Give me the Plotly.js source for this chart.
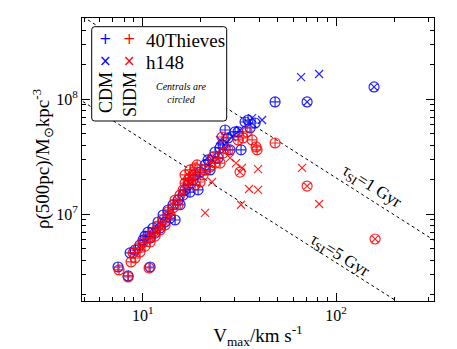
<!DOCTYPE html>
<html><head><meta charset="utf-8">
<script src="https://cdn.plot.ly/plotly-3.0.1.min.js"></script>
<style>html,body{margin:0;padding:0;background:#fff}#chart{width:457px;height:349px}</style>
</head><body><div id="chart"></div>
<script>
// CDM 40Thieves (all centrals, circled +)
const cdmThievesV = [7.45,8.40,10.91,8.60,9.13,9.68,10.04,10.28,10.65,10.91,11.31,11.58,12.00,12.29,12.74,13.05,13.52,13.85,14.35,14.70,15.23,15.60,16.17,16.55,17.16,17.57,18.21,18.65,19.33,19.80,21.01,21.77,22.30,23.66,24.52,25.11,26.03,27.63,28.29,30.02,31.12,32.25,33.82,35.05,35.90,38.11,48.36,26.66];
const cdmThievesRho = [3.48e6,2.91e6,3.48e6,4.61e6,4.89e6,5.41e6,5.98e6,6.47e6,7.01e6,6.22e6,7.60e6,6.87e6,8.57e6,7.60e6,9.86e6,8.57e6,1.09e7,9.28e6,1.21e7,8.92e6,1.33e7,1.21e7,1.47e7,1.63e7,1.80e7,1.56e7,1.99e7,2.20e7,1.63e7,2.33e7,2.69e7,2.97e7,2.43e7,3.48e7,3.09e7,3.78e7,4.01e7,4.61e7,3.63e7,5.20e7,5.20e7,3.63e7,6.35e7,6.61e7,5.63e7,6.22e7,9.48e7,5.41e7];
// CDM h148 satellites (x) and centrals (circled x)
const cdmH148SatV = [65.9,81.7,41.42,25.11,21.51,26.98,28.97,31.87,36.76,22.83];
const cdmH148SatRho = [1.56e8,1.66e8,6.61e7,4.43e7,3.09e7,4.17e7,4.70e7,5.41e7,6.87e7,2.97e7];
const cdmH148CenV = [70.8,157.2];
const cdmH148CenRho = [9.48e7,1.28e8];
// SIDM 40Thieves
const sidmThievesV = [7.54,8.40,10.78,8.70,8.91,9.13,9.46,9.68,10.04,10.28,10.65,10.91,11.31,11.58,12.00,12.29,12.74,13.05,13.52,13.85,14.35,14.70,15.23,15.60,16.17,16.55,17.16,17.57,18.21,18.65,19.10,19.80,20.51,21.01,22.30,23.11,23.66,25.11,25.72,26.03,27.63,31.12,33.03,34.63,36.76,38.57,39.02,48.36,17.57,16.55,18.65];
const sidmThievesRho = [3.28e6,2.85e6,3.41e6,3.85e6,4.61e6,4.17e6,5.09e6,4.70e6,5.74e6,5.29e6,6.22e6,5.74e6,7.01e6,6.47e6,7.91e6,7.30e6,8.92e6,8.07e6,1.05e7,9.86e6,1.14e7,1.33e7,1.21e7,1.47e7,1.63e7,1.87e7,1.99e7,2.07e7,2.20e7,1.80e7,2.69e7,1.91e7,2.20e7,2.43e7,2.58e7,3.15e7,2.79e7,2.79e7,4.70e7,3.41e7,3.63e7,4.43e7,4.61e7,5.20e7,4.43e7,3.85e7,3.63e7,4.17e7,2.43e7,2.20e7,2.53e7];
// SIDM h148
const sidmH148SatV = [21.01,32.25,35.47,39.49,39.49,66.7,81.7,30.38,28.29,22.83,32.6];
const sidmH148SatRho = [1.03e7,1.21e7,1.66e7,1.63e7,2.47e7,2.53e7,1.23e7,2.79e7,3.09e7,1.91e7,2.53e7];
const sidmH148CenV = [70.8,159.1,31.87];
const sidmH148CenRho = [1.76e7,6.10e6,2.33e7];
// Constant-timescale reference lines
const lineV = [4.9, 330];
const tau1Rho = [5.23e8, 5.78e6];
const tau5Rho = [9.57e7, 1.06e6];
// Ticks
const xTickVals = [10, 100];
const xTickText = ['10<sup>1</sup>', '10<sup>2</sup>'];
const yTickVals = [1e7, 1e8];
const yTickText = ['10<sup>7</sup>', '10<sup>8</sup>'];
const xMinor = [5,6,7,8,9,20,30,40,50,60,70,80,90,200,300];
const yMinor = [2e6,3e6,4e6,5e6,6e6,7e6,8e6,9e6,2e7,3e7,4e7,5e7,6e7,7e7,8e7,9e7,2e8,3e8,4e8,5e8];

const BLUE = '#0000ff', RED = '#ff0000';
const F = 'Liberation Serif, Times New Roman, serif';
function mk(x, y, sym, col, size) {
  return {x: x, y: y, type: 'scatter', mode: 'markers', showlegend: false, hoverinfo: 'skip',
    marker: {symbol: sym, size: size, color: col, opacity: 0.85, line: {color: col, width: 1.2}}};
}
const data = [
  {x: lineV, y: tau1Rho, type: 'scatter', mode: 'lines', showlegend: false, line: {color: '#000', width: 1, dash: 'dot'}},
  {x: lineV, y: tau5Rho, type: 'scatter', mode: 'lines', showlegend: false, line: {color: '#000', width: 1, dash: 'dot'}},
  mk(cdmThievesV, cdmThievesRho, 'circle-cross-open', BLUE, 10),
  mk(cdmH148SatV, cdmH148SatRho, 'x-thin-open', BLUE, 8),
  mk(cdmH148CenV, cdmH148CenRho, 'circle-x-open', BLUE, 10),
  mk(sidmThievesV, sidmThievesRho, 'circle-cross-open', RED, 10),
  mk(sidmH148SatV, sidmH148SatRho, 'x-thin-open', RED, 8),
  mk(sidmH148CenV, sidmH148CenRho, 'circle-x-open', RED, 10)
];
const axBase = {type: 'log', showgrid: false, zeroline: false, showline: true, linecolor: '#000', linewidth: 1,
  mirror: 'allticks', ticks: 'inside', ticklen: 8, tickwidth: 1, tickcolor: '#000',
  tickfont: {family: F, size: 16, color: '#000'}};
const layout = {
  width: 457, height: 349, margin: {l: 82, r: 23, t: 18, b: 48},
  paper_bgcolor: '#fff', plot_bgcolor: '#fff', font: {family: F, color: '#000'},
  xaxis: Object.assign({}, axBase, {range: [Math.log10(4.85), Math.log10(321)], tickmode: 'array', tickvals: xTickVals, ticktext: xTickText,
    minor: {tickmode: 'array', tickvals: xMinor, ticks: 'inside', ticklen: 4, tickcolor: '#000', showgrid: false},
    title: {text: 'V<sub>max</sub>/km s<sup>-1</sup>', font: {family: F, size: 19}, standoff: 6}}),
  yaxis: Object.assign({}, axBase, {range: [6.246, 8.707], tickmode: 'array', tickvals: yTickVals, ticktext: yTickText,
    minor: {tickmode: 'array', tickvals: yMinor, ticks: 'inside', ticklen: 4, tickcolor: '#000', showgrid: false}}),
  shapes: [
    {type: 'path', xref: 'paper', yref: 'paper', layer: 'above',
     path: (function(){
       const L=(91.7-82)/352, R=(226.7-82)/352, T=1-(26.7-18)/283, B=1-(121-18)/283, rx=3/352, ry=3/283;
       return `M ${L+rx},${B} L ${R-rx},${B} Q ${R},${B} ${R},${B+ry} L ${R},${T-ry} Q ${R},${T} ${R-rx},${T} L ${L+rx},${T} Q ${L},${T} ${L},${T-ry} L ${L},${B+ry} Q ${L},${B} ${L+rx},${B} Z`;
     })(),
     fillcolor: '#fff', line: {color: '#000', width: 1}}
  ],
  annotations: []
};
function px2x(p){return (p-82)/352;}
function py2y(p){return 1-(p-18)/283;}
function ann(text, px, py, opts){
  return Object.assign({text: text, x: px2x(px), y: py2y(py), xref: 'paper', yref: 'paper', showarrow: false,
    xanchor: 'center', yanchor: 'middle', font: {family: F, size: 16, color: '#000'}}, opts || {});
}
layout.annotations.push(
  ann('ρ(500pc)/M<sub>⊙</sub>kpc<sup>-3</sup>', 42, 159, {textangle: -90, font: {family: F, size: 19, color: '#000'}}),
  ann('+', 105.7, 39, {font: {family: 'DejaVu Sans', size: 15, color: BLUE}}),
  ann('+', 129, 39, {font: {family: 'DejaVu Sans', size: 15, color: RED}}),
  ann('×', 105.7, 61, {font: {family: 'DejaVu Sans', size: 15, color: BLUE}}),
  ann('×', 129, 61, {font: {family: 'DejaVu Sans', size: 15, color: RED}}),
  ann('40Thieves', 144, 40, {xanchor: 'left', font: {family: F, size: 19, color: '#000'}}),
  ann('h148', 144, 62, {xanchor: 'left', font: {family: F, size: 19, color: '#000'}}),
  ann('CDM', 106, 93, {textangle: -90, font: {family: F, size: 18, color: '#000'}}),
  ann('SIDM', 130, 95, {textangle: -90, font: {family: F, size: 18, color: '#000'}}),
  ann('<i>Centrals are</i><br><i>circled</i>', 181, 93, {font: {family: F, size: 10, color: '#000'}}),
  ann('τ<sub>SI</sub>=1 Gyr', 371, 187, {textangle: 32, font: {family: F, size: 17, color: '#000'}}),
  ann('τ<sub>SI</sub>=5 Gyr', 339, 256, {textangle: 32, font: {family: F, size: 17, color: '#000'}})
);
Plotly.newPlot('chart', data, layout, {staticPlot: true, displayModeBar: false});
</script></body></html>
